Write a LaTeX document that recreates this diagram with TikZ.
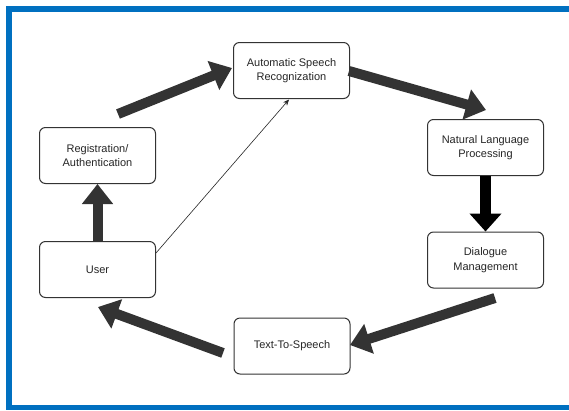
\documentclass[tikz,border=0pt]{standalone}
\usepackage{fontspec}
\setmainfont{Liberation Sans}
\usetikzlibrary{arrows.meta}
\definecolor{frameblue}{HTML}{0070C0}
\definecolor{boxline}{HTML}{333333}
\definecolor{arrowgray}{HTML}{333333}
\begin{document}
\begin{tikzpicture}[x=1pt,y=-1pt,
  box/.style={draw=boxline, line width=1pt, rounded corners=6pt, fill=white,
    minimum width=116pt, minimum height=56pt, align=center, inner sep=2pt,
    font=\fontsize{11}{14.5}\selectfont, text=black!85},
  bigarrow/.style={draw=arrowgray, line width=10pt,
    -{Triangle[width=30pt,length=20pt]}},
  blackarrow/.style={draw=black, line width=11pt,
    -{Triangle[width=31pt,length=18pt]}},
  thinarrow/.style={draw=black!85, line width=0.6pt, -{Stealth[length=6pt,width=5pt]}}
]
\useasboundingbox (0,0) rectangle (569,410);
\fill[white] (0,0) rectangle (569,410);
% blue frame
\fill[frameblue] (6,6) rectangle (569,12);
\fill[frameblue] (6,6) rectangle (12,410);
\fill[frameblue] (6,405) rectangle (569,410);

% nodes
\node[box] (asr) at (291.5,70.5) {Automatic Speech\\Recognization};
\node[box] (nlp) at (485.5,147.5) {Natural Language\\Processing};
\node[box] (dm) at (485.5,260) {Dialogue\\Management};
\node[box] (tts) at (292,346) {Text-To-Speech};
\node[box] (user) at (97.5,269.5) {User};
\node[box] (reg) at (97.5,155.5) {Registration/\\Authentication};

% arrow end points
\coordinate (a1s) at (118,114);
\coordinate (a1e) at (232,68);
\coordinate (a2s) at (349,71);
\coordinate (a2e) at (486,110);
\coordinate (a4s) at (495,298);
\coordinate (a4e) at (350,345);
\coordinate (a5s) at (223,353);
\coordinate (a5e) at (98,307);

\draw[bigarrow] (a1s) -- (a1e);
\draw[bigarrow] (a2s) -- (a2e);
\draw[blackarrow] (nlp.south) -- (dm.north);
\draw[bigarrow] (a4s) -- (a4e);
\draw[bigarrow] (a5s) -- (a5e);
\draw[bigarrow] (user.north) -- (reg.south);
\draw[thinarrow] (user.east |- 0,253) -- (289,99.5);
\end{tikzpicture}
\end{document}
